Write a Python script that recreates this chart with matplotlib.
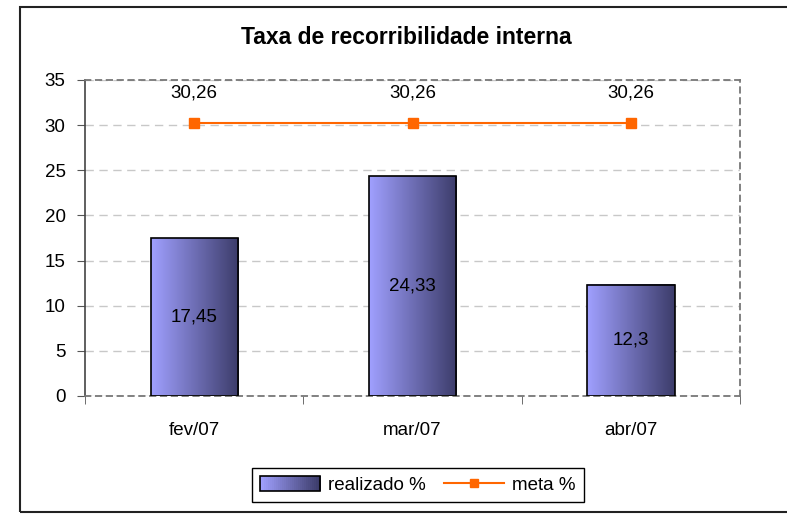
import numpy as np
import matplotlib.pyplot as plt
from matplotlib.colors import LinearSegmentedColormap
from matplotlib.legend_handler import HandlerBase
from matplotlib.patches import Rectangle
from matplotlib.lines import Line2D

plt.rcParams['font.family'] = ['Liberation Sans', 'DejaVu Sans']

# data
months = ['fev/07', 'mar/07', 'abr/07']
realizado = [17.45, 24.33, 12.3]
meta = [30.26, 30.26, 30.26]
realizado_labels = ['17,45', '24,33', '12,3']
meta_labels = ['30,26', '30,26', '30,26']

grad_cmap = LinearSegmentedColormap.from_list('bars', ['#A0A0FF', '#3C3C6A'])
FS = 13.5


class GradientHandler(HandlerBase):
    def create_artists(self, legend, orig_handle, xdescent, ydescent,
                       width, height, fontsize, trans):
        n = 30
        artists = []
        for i in range(n):
            r = Rectangle((-xdescent + width * i / n, -ydescent), width / n + 0.3, height,
                          facecolor=grad_cmap(i / (n - 1)), edgecolor='none', transform=trans)
            artists.append(r)
        artists.append(Rectangle((-xdescent, -ydescent), width, height, facecolor='none',
                                 edgecolor='black', lw=1.2, transform=trans))
        return artists


fig = plt.figure(figsize=(7.87, 5.15), dpi=100)
ax = fig.add_axes([85 / 787, 1 - 396 / 515, 655 / 787, 316 / 515])

# outer frame of the chart area
fig.patches.append(Rectangle((20 / 787, 1 - 512 / 515), 1.0, 505 / 515, transform=fig.transFigure,
                             facecolor='none', edgecolor='#222222', lw=1.5, zorder=0))

x = np.arange(len(months))
bars = ax.bar(x, realizado, width=0.4, facecolor='none', edgecolor='black', lw=1.2, zorder=3)
grad = np.linspace(0, 1, 256).reshape(1, -1)
for b in bars:
    ax.imshow(grad, cmap=grad_cmap, aspect='auto', zorder=2,
              extent=[b.get_x(), b.get_x() + b.get_width(), 0, b.get_height()])

ax.plot(x, meta, color='#FF6600', lw=1.5, marker='s', markersize=7, zorder=4)

for xi, v, lab in zip(x, realizado, realizado_labels):
    ax.text(xi, v / 2, lab, ha='center', va='center', fontsize=FS, zorder=5)
for xi, v, lab in zip(x, meta, meta_labels):
    ax.text(xi, v + 2.4, lab, ha='center', va='bottom', fontsize=FS, zorder=5)

ax.set_xlim(-0.5, len(months) - 0.5)
ax.set_ylim(0, 35)
ax.set_yticks(range(0, 36, 5))
ax.set_xticks(x)
ax.set_xticklabels(months)
ax.set_xticks(np.arange(-0.5, len(months)), minor=True)
ax.tick_params(axis='x', which='major', length=0, labelsize=FS, pad=19)
ax.tick_params(axis='x', which='minor', length=6, direction='out', color='#555555')
ax.tick_params(axis='y', length=6, direction='out', labelsize=FS, color='#555555', pad=8)
ax.set_axisbelow(True)
ax.grid(axis='y', color='#C8C8C8', ls=(0, (6, 4)), lw=1)

for side in ['top', 'right', 'bottom']:
    ax.spines[side].set_color('#777777')
    ax.spines[side].set_linestyle((0, (3, 3)))
    ax.spines[side].set_linewidth(1.3)
ax.spines['left'].set_color('#444444')
ax.spines['left'].set_linewidth(1.2)

fig.text(406 / 787, 1 - 38 / 515, 'Taxa de recorribilidade interna', ha='center', va='center',
         fontsize=16.5, fontweight='bold')

h_bar = Rectangle((0, 0), 1, 1)
h_line = Line2D([], [], color='#FF6600', lw=1.5, marker='s', markersize=6)
fig.legend([h_bar, h_line], ['realizado %', 'meta %'], handler_map={Rectangle: GradientHandler()},
           loc='center', bbox_to_anchor=(418 / 787, 1 - 485 / 515), ncol=2, fontsize=FS,
           frameon=True, fancybox=False, edgecolor='black', framealpha=1,
           handlelength=3.2, handleheight=0.8, handletextpad=0.4, columnspacing=1.0, borderpad=0.45)

fig.savefig('out.png', dpi=100)
